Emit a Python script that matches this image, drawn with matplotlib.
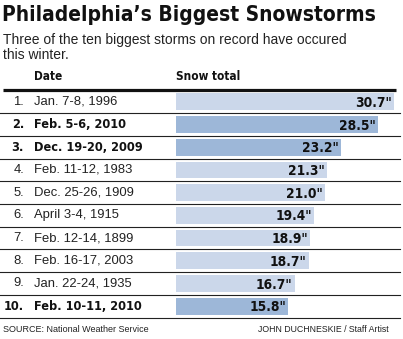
import matplotlib
matplotlib.use("Agg")
import matplotlib.pyplot as plt
import matplotlib.transforms as mtransforms

ranks = ["1.", "2.", "3.", "4.", "5.", "6.", "7.", "8.", "9.", "10."]
dates = ["Jan. 7-8, 1996", "Feb. 5-6, 2010", "Dec. 19-20, 2009", "Feb. 11-12, 1983",
         "Dec. 25-26, 1909", "April 3-4, 1915", "Feb. 12-14, 1899", "Feb. 16-17, 2003",
         "Jan. 22-24, 1935", "Feb. 10-11, 2010"]
snow = [30.7, 28.5, 23.2, 21.3, 21.0, 19.4, 18.9, 18.7, 16.7, 15.8]
this_winter = [False, True, True, False, False, False, False, False, False, True]

W, H = 403, 339
light = "#cbd7ea"
dark = "#9db7d8"
cond = dict(family="DejaVu Sans", fontstretch="condensed", fontweight="bold")
reg = "Liberation Sans"

fig = plt.figure(figsize=(W / 100, H / 100), dpi=100)
fig.patch.set_facecolor("white")

# overlay axes in pixel coords
ov = fig.add_axes([0, 0, 1, 1])
ov.set_xlim(0, W)
ov.set_ylim(H, 0)
ov.axis("off")

ov.text(2, 15, "Philadelphia\u2019s Biggest Snowstorms", fontsize=15.0,
        va="center", ha="left", color="#111111", **cond)
ov.text(3, 40, "Three of the ten biggest storms on record have occured", fontsize=10,
        family=reg, va="center", ha="left", color="#222222")
ov.text(3, 55, "this winter.", fontsize=10, family=reg, va="center", ha="left", color="#222222")
ov.text(34, 76, "Date", fontsize=8.5, va="center", color="#111111", **cond)
ov.text(176, 76, "Snow total", fontsize=8.5, va="center", color="#111111", **cond)
ov.plot([3, 396], [89.5, 89.5], color="#111111", lw=2.3, solid_capstyle="butt")
ov.text(3, 330, "SOURCE: National Weather Service", fontsize=6.5, family=reg, va="center", color="#222222")
ov.text(389, 330, "JOHN DUCHNESKIE / Staff Artist", fontsize=6.3, family=reg, va="center",
        ha="right", color="#222222")

# bar axes
top, bottom = 90.5, 317.5
left_px, right_px = 176, 400
ax = fig.add_axes([left_px / W, 1 - bottom / H, (right_px - left_px) / W, (bottom - top) / H])
ax.set_xlim(0, (right_px - left_px) / 7.1)
ax.set_ylim(len(snow), 0)
ax.axis("off")

ys = [i + 0.5 for i in range(len(snow))]
ax.barh(ys, snow, height=0.74, color=[dark if t else light for t in this_winter], zorder=1)

trans = mtransforms.blended_transform_factory(ov.transData, ax.transData)
for i, (r, d, v, t) in enumerate(zip(ranks, dates, snow, this_winter)):
    y = ys[i]
    if t:
        ov.text(24, y, r, transform=trans, ha="right", va="center", fontsize=9.1,
                color="#111111", **cond)
        ov.text(34, y, d, transform=trans, ha="left", va="center", fontsize=9.1,
                color="#111111", **cond)
    else:
        ov.text(24, y, r, transform=trans, ha="right", va="center", fontsize=9.4,
                family=reg, color="#222222")
        ov.text(34, y, d, transform=trans, ha="left", va="center", fontsize=9.4,
                family=reg, color="#222222")
    ax.text(v - 0.3, y + 0.05, f"{v:.1f}\"", ha="right", va="center", fontsize=9.8,
            color="#111111", **cond)
    if i > 0:
        ov.plot([0, 400], [i, i], transform=trans, color="#222222", lw=0.8)
ov.plot([0, 400], [len(snow), len(snow)], transform=trans, color="#222222", lw=0.8)

fig.savefig("out.png", dpi=100)
